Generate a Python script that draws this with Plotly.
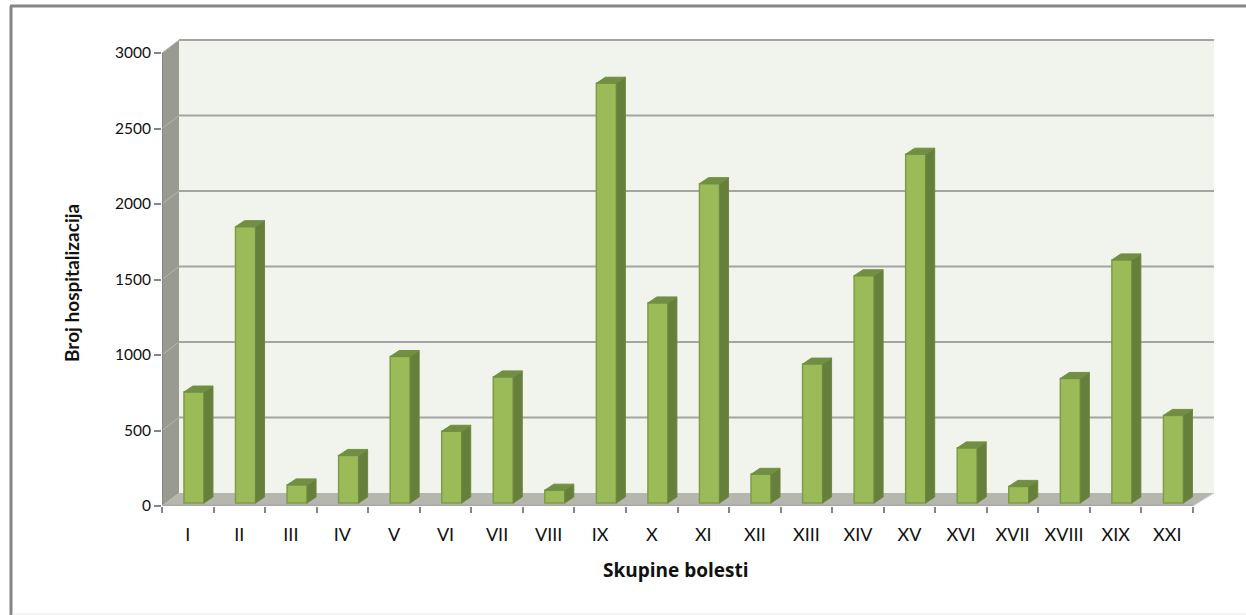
"""Hospitalizations by disease group, drawn as a faux 3D column chart."""
import plotly.graph_objects as go

categories = ["I", "II", "III", "IV", "V", "VI", "VII", "VIII", "IX", "X",
              "XI", "XII", "XIII", "XIV", "XV", "XVI", "XVII", "XVIII", "XIX", "XXI"]
hospitalizations = [735, 1830, 120, 315, 970, 475, 835, 85, 2780, 1325,
                    2115, 190, 920, 1505, 2310, 365, 110, 825, 1610, 580]
y_ticks = [0, 500, 1000, 1500, 2000, 2500, 3000]

WIDTH, HEIGHT = 1246, 615
PLOT_L, PLOT_R, PLOT_T, PLOT_B = 162, 1214, 38, 506
PX_PER_CAT = 51.55
PX_PER_UNIT = 453 / 3000

# depth of the fake 3D box, in data units (the right side leans a bit more)
DEPTH_X = 17 / PX_PER_CAT
DEPTH_X_RIGHT = 21 / PX_PER_CAT
DEPTH_Y = 13 / PX_PER_UNIT
X0 = -0.5
X1 = X0 + len(categories)
Y_MAX = 3000

# bar geometry, in data units
BAR_OFFSET = -3.8 / PX_PER_CAT
BAR_W = 20 / PX_PER_CAT
BAR_BASE = 3 / PX_PER_UNIT
BAR_DX = 9 / PX_PER_CAT
BAR_DY = 6 / PX_PER_UNIT

GRID = "#a4a5a2"
AXIS = "#868686"
FONT = "Lato, sans-serif"


def fx(px):
    return (px - PLOT_L) / (PLOT_R - PLOT_L)


def fy(px):
    return (PLOT_B - px) / (PLOT_B - PLOT_T)


def poly(xs, ys, color, layer="below"):
    path = "M " + " L ".join(f"{x},{y}" for x, y in zip(xs, ys)) + " Z"
    return dict(type="path", path=path, xref="x", yref="y", fillcolor=color,
                line=dict(width=0), layer=layer)


def line(x0, y0, x1, y1, color=GRID, width=2):
    return dict(type="line", x0=x0, y0=y0, x1=x1, y1=y1, xref="x", yref="y",
                line=dict(color=color, width=width), layer="below")


def frame_line(x0, y0, x1, y1, color, width):
    return dict(type="line", x0=fx(x0), y0=fy(y0), x1=fx(x1), y1=fy(y1), xref="paper", yref="paper",
                line=dict(color=color, width=width), layer="below")


back_l = X0 + DEPTH_X
back_r = X1 + DEPTH_X_RIGHT
shapes = [
    # back wall, side wall, floor
    poly([back_l, back_r, back_r, back_l],
         [DEPTH_Y, DEPTH_Y, Y_MAX + DEPTH_Y, Y_MAX + DEPTH_Y], "#f1f3ed"),
    poly([X0, back_l, back_l, X0], [0, DEPTH_Y, Y_MAX + DEPTH_Y, Y_MAX], "#999b91"),
    poly([X0, X1, back_r, back_l], [0, 0, DEPTH_Y, DEPTH_Y], "#b5b7af"),
]
for t in y_ticks[1:]:
    shapes.append(line(back_l, t + DEPTH_Y, back_r, t + DEPTH_Y))
    shapes.append(line(X0, t, back_l, t + DEPTH_Y, color="#b5b6b0", width=1))
# front edges of the box stand in for the axis lines
shapes.append(line(X0, 0, X0, Y_MAX, color=AXIS))
shapes.append(line(X0, 0, X1, 0, color="#a9a9a9", width=3))
shapes.append(line(X1, 0, back_r, DEPTH_Y, color="#d0d0d0", width=1))
# outer chart frame
shapes.append(frame_line(11, 6, 11, HEIGHT, AXIS, 3))
shapes.append(frame_line(10, 6, WIDTH, 6, AXIS, 3))
shapes.append(frame_line(12, 614, WIDTH, 614, "#e6e6e6", 1))

fig = go.Figure()

idx = list(range(len(categories)))
fig.add_trace(go.Bar(
    x=idx, y=hospitalizations, base=BAR_BASE, width=BAR_W, offset=BAR_OFFSET,
    marker=dict(color="#9bbb59", line=dict(color="#7f9c48", width=1.5)),
    showlegend=False,
))

side_x, side_y, top_x, top_y = [], [], [], []
for i, v in zip(idx, hospitalizations):
    left = i + BAR_OFFSET
    right = left + BAR_W
    top = v + BAR_BASE
    side_x += [right, right + BAR_DX, right + BAR_DX, right, right, None]
    side_y += [BAR_BASE, BAR_BASE + BAR_DY, top + BAR_DY, top, BAR_BASE, None]
    top_x += [left, right, right + BAR_DX, left + BAR_DX, left, None]
    top_y += [top, top, top + BAR_DY, top + BAR_DY, top, None]

fig.add_trace(go.Scatter(x=side_x, y=side_y, mode="lines", fill="toself", fillcolor="#667f3a",
                         line=dict(color="#6d8840", width=1), hoverinfo="skip", showlegend=False))
fig.add_trace(go.Scatter(x=top_x, y=top_y, mode="lines", fill="toself", fillcolor="#718f42",
                         line=dict(color="#718f42", width=1), hoverinfo="skip", showlegend=False))

fig.update_layout(
    width=WIDTH, height=HEIGHT,
    margin=dict(l=PLOT_L, r=WIDTH - PLOT_R, t=PLOT_T, b=HEIGHT - PLOT_B),
    paper_bgcolor="white", plot_bgcolor="white",
    shapes=shapes, showlegend=False,
    font=dict(family=FONT, size=16, color="#111111"),
)
fig.update_xaxes(
    range=[X0, X0 + (PLOT_R - PLOT_L) / PX_PER_CAT],
    tickmode="array", tickvals=idx, ticktext=categories,
    ticks="outside", ticklen=12, tickcolor="rgba(0,0,0,0)",
    tickfont=dict(size=18),
    minor=dict(tickvals=[i - 0.5 for i in idx + [len(idx)]], ticks="outside", ticklen=6, tickwidth=2, tickcolor=AXIS),
    showgrid=False, zeroline=False, showline=False,
)
fig.update_yaxes(
    range=[0, (PLOT_B - PLOT_T) / PX_PER_UNIT],
    tickmode="array", tickvals=y_ticks,
    ticks="outside", ticklen=7, tickwidth=2, tickcolor=AXIS,
    tickfont=dict(size=15.5),
    showgrid=False, zeroline=False, showline=False,
)

# axis titles sit off-centre in the original, so they are placed by hand
fig.add_annotation(text="<b>Skupine bolesti</b>", xref="paper", yref="paper", x=fx(676), y=fy(570),
                   xanchor="center", yanchor="middle", showarrow=False,
                   font=dict(family="Open Sans, sans-serif", size=19, color="#111111"))
fig.add_annotation(text="<b>Broj hospitalizacija</b>", xref="paper", yref="paper", x=fx(71), y=fy(283),
                   xanchor="center", yanchor="middle", textangle=-90, showarrow=False,
                   font=dict(family=FONT, size=19, color="#111111"))

# the page's default body margin would push the chart 8px off
fig.write_html("out.html", config=dict(displayModeBar=False),
               post_script="document.body.style.margin='0';")
